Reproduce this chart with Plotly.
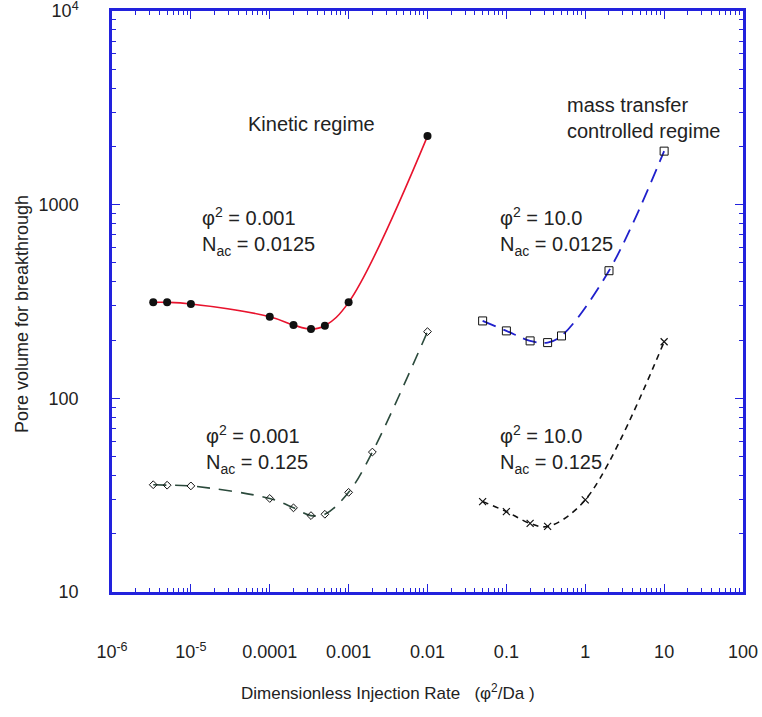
import plotly.graph_objects as go

# ---------------- data ----------------
kin1_x = [1/300000, 5e-6, 1e-5, 1e-4, 2e-4, 1/3000, 5e-4, 1e-3, 1e-2]
kin1_y = [313, 313, 307, 264, 239, 228, 237, 313, 2260]

kin2_x = [1/300000, 5e-6, 1e-5, 1e-4, 2e-4, 1/3000, 5e-4, 1e-3, 2e-3, 1e-2]
kin2_y = [35.8, 35.6, 35.3, 30.4, 27.2, 24.8, 25.2, 32.7, 52.8, 221]

mt1_x = [0.05, 0.1, 0.2, 1/3, 0.5, 2, 10]
mt1_y = [251, 223, 198, 194, 210, 456, 1890]

mt2_x = [0.05, 0.1, 0.2, 1/3, 1, 10]
mt2_y = [29.3, 26.0, 22.6, 21.8, 29.9, 196]

x_tickvals = [1e-6, 1e-5, 1e-4, 1e-3, 1e-2, 1e-1, 1, 10, 100]
x_ticktext = ["10<sup>-6</sup>", "10<sup>-5</sup>", "0.0001", "0.001", "0.01",
              "0.1", "1", "10", "100"]
y_tickvals = [10, 100, 1000, 10000]
y_ticktext = ["10", "100", "1000", "10<sup>4</sup>"]

x_minor = [m * 10.0 ** e for e in range(-6, 2) for m in range(2, 10)]
y_minor = [m * 10.0 ** e for e in range(1, 4) for m in range(2, 10)]

x_title = "Dimensionless Injection Rate   (φ<sup>2</sup>/Da )"
y_title = "Pore volume for breakthrough"

FONT = "Liberation Sans, Arial, sans-serif"
AXIS_BLUE = "#2222dd"
TXT = "#222222"

fig = go.Figure()

fig.add_trace(go.Scatter(
    x=kin1_x, y=kin1_y, mode="lines+markers",
    line=dict(color="#e8132d", width=1.6, shape="spline", smoothing=1.1),
    marker=dict(symbol="circle", size=8, color="#111111"),
))
fig.add_trace(go.Scatter(
    x=kin2_x, y=kin2_y, mode="lines+markers",
    line=dict(color="#2b4a3c", width=1.6, shape="spline", smoothing=1.0,
              dash="13px,9px"),
    marker=dict(symbol="diamond-open", size=6, color="#111111",
                line=dict(width=1, color="#111111")),
))
fig.add_trace(go.Scatter(
    x=mt1_x, y=mt1_y, mode="lines+markers",
    line=dict(color="#2020cc", width=1.8, shape="spline", smoothing=1.0,
              dash="14px,8px"),
    marker=dict(symbol="square-open", size=8, color="#111111",
                line=dict(width=1, color="#111111")),
))
fig.add_trace(go.Scatter(
    x=mt2_x, y=mt2_y, mode="lines+markers",
    line=dict(color="#111111", width=1.6, shape="spline", smoothing=1.0,
              dash="6px,5px"),
    marker=dict(symbol="x-thin-open", size=7, color="#111111",
                line=dict(width=1.2, color="#111111")),
))

axis_common = dict(
    type="log", showgrid=False, zeroline=False,
    showline=True, linecolor=AXIS_BLUE, linewidth=2.5, mirror="allticks",
    ticks="inside", ticklen=8, tickwidth=1.2, tickcolor=AXIS_BLUE,
    tickfont=dict(family=FONT, size=18, color=TXT),
    ticklabeloverflow="allow",
)

fig.update_xaxes(
    **axis_common,
    range=[-6, 2], tickmode="array", tickvals=x_tickvals, ticktext=x_ticktext,
    ticklabelstandoff=42,
    minor=dict(tickmode="array", tickvals=x_minor, ticks="inside", ticklen=4,
               tickwidth=1, tickcolor=AXIS_BLUE, showgrid=False),
)
fig.update_yaxes(
    **axis_common,
    range=[1, 4], tickmode="array", tickvals=y_tickvals, ticktext=y_ticktext,
    ticklabelstandoff=27,
    minor=dict(tickmode="array", tickvals=y_minor, ticks="inside", ticklen=4,
               tickwidth=1, tickcolor=AXIS_BLUE, showgrid=False),
)

L, R, T, B = 112, 19, 11, 125
PW, PH = 762 - L - R, 717 - T - B


def px(x):
    return (x - L) / PW


def py(y):
    return (717 - B - y) / PH


def note(x, y, text, anchor="left", size=20, angle=0):
    fig.add_annotation(x=px(x), y=py(y), xref="paper", yref="paper",
                       text=text, showarrow=False, xanchor=anchor,
                       yanchor="middle", align="left", textangle=angle,
                       font=dict(family=FONT, size=size, color=TXT))


# axis titles
note(388, 692, x_title, anchor="center", size=17)
note(22, 314, y_title, anchor="center", size=18, angle=-90)

# in-plot labels
note(246, 124, "Kinetic regime")
note(565, 118, "mass transfer<br>controlled regime")
note(200, 231, "φ<sup>2</sup> = 0.001<br>N<sub>ac</sub> = 0.0125")
note(204, 450, "φ<sup>2</sup> = 0.001<br>N<sub>ac</sub> = 0.125")
note(498, 231, "φ<sup>2</sup> = 10.0<br>N<sub>ac</sub> = 0.0125")
note(498, 450, "φ<sup>2</sup> = 10.0<br>N<sub>ac</sub> = 0.125")

fig.update_layout(
    width=762, height=717,
    margin=dict(l=L, r=R, t=T, b=B, autoexpand=False),
    paper_bgcolor="white", plot_bgcolor="white",
    showlegend=False,
    font=dict(family=FONT, color=TXT),
)

fig.write_html("out.html")
